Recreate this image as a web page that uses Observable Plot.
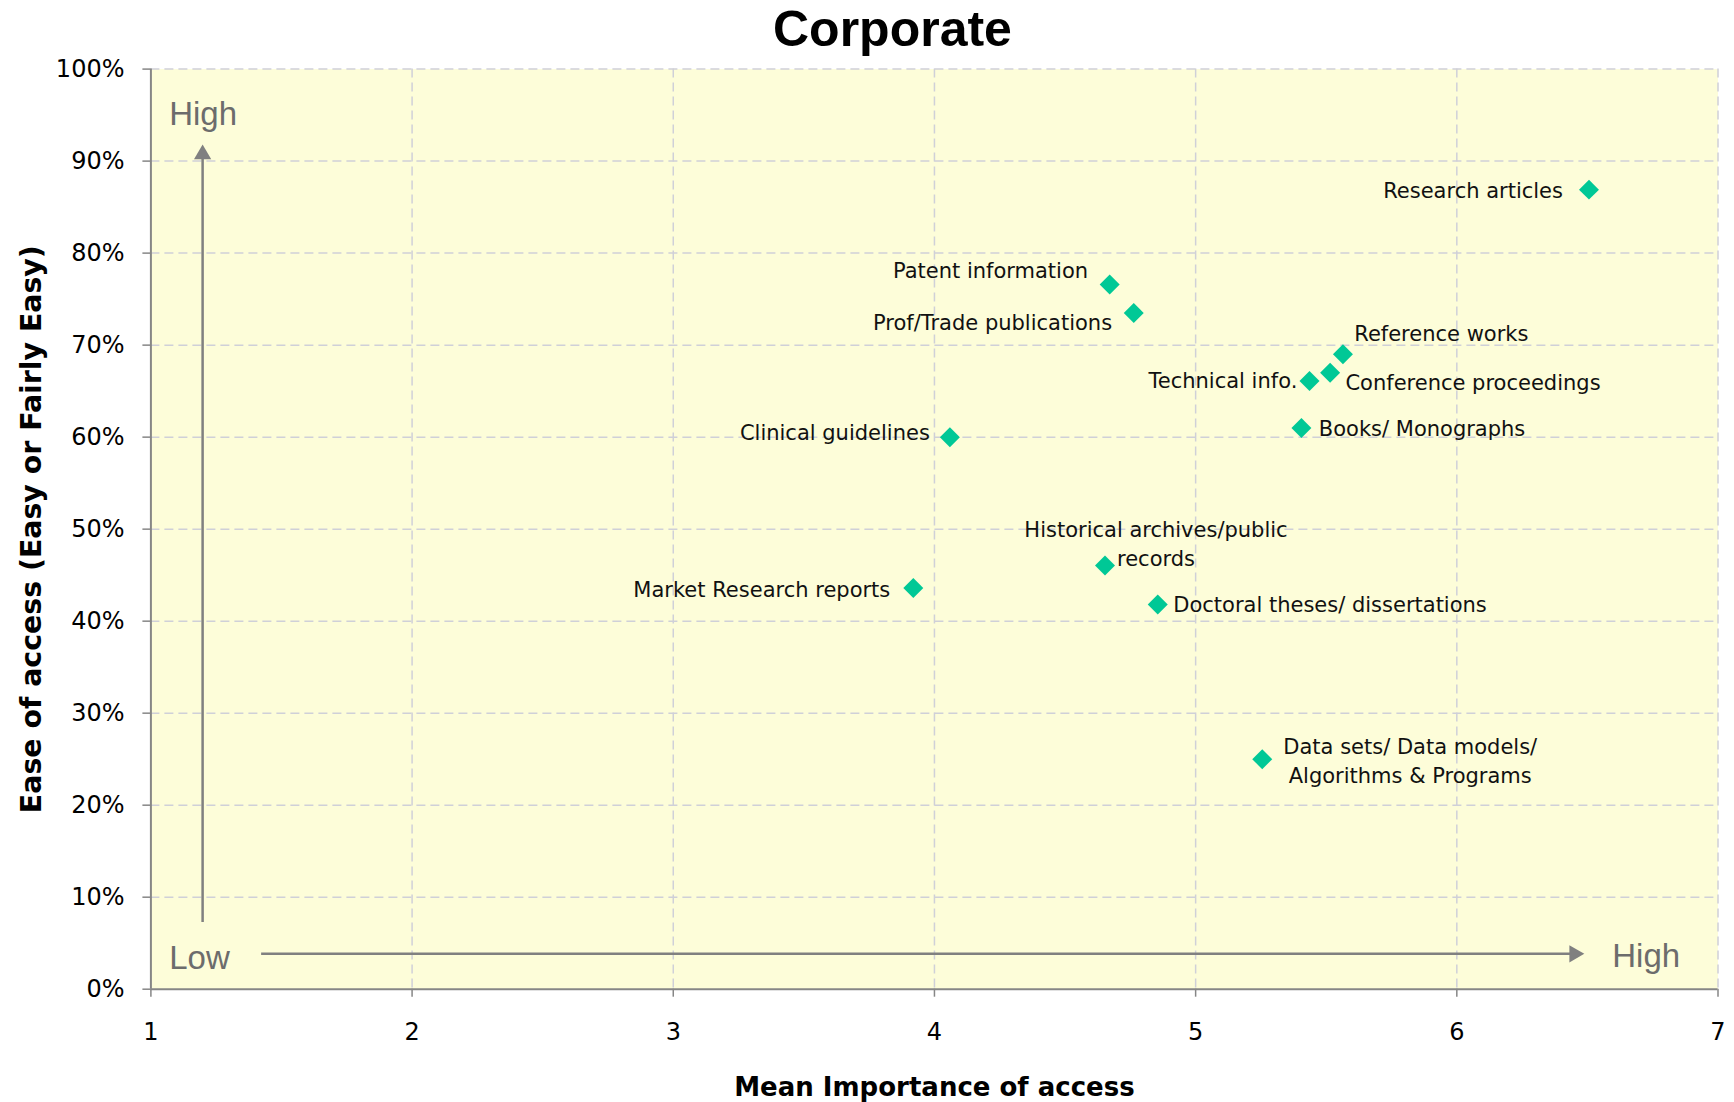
<!DOCTYPE html>
<html>
<head>
<meta charset="utf-8">
<script src="https://cdn.jsdelivr.net/npm/d3@7"></script>
<script src="https://cdn.jsdelivr.net/npm/@observablehq/plot@0.6"></script>
<style>
  html, body { margin: 0; padding: 0; background: #ffffff; overflow: hidden; }
</style>
</head>
<body>
<div id="chart"></div>
<script>
// ---------------- Data ----------------
const chartTitle = "Corporate";
const xTitle = "Mean Importance of access";
const yTitle = "Ease of access (Easy or Fairly Easy)";

const sources = [
  "Research articles",
  "Patent information",
  "Prof/Trade publications",
  "Reference works",
  "Conference proceedings",
  "Technical info.",
  "Books/ Monographs",
  "Clinical guidelines",
  "Historical archives/public\nrecords",
  "Market Research reports",
  "Doctoral theses/ dissertations",
  "Data sets/ Data models/\nAlgorithms & Programs"
];
const importance = [6.506, 4.671, 4.763, 5.564, 5.515, 5.436, 5.405, 4.059, 4.653, 3.919, 4.855, 5.255];
const ease       = [0.869, 0.766, 0.735, 0.690, 0.670, 0.661, 0.610, 0.600, 0.4605, 0.436, 0.418, 0.250];

const xTicks = [1, 2, 3, 4, 5, 6, 7];
const yTicks = [0, 0.1, 0.2, 0.3, 0.4, 0.5, 0.6, 0.7, 0.8, 0.9, 1.0];

// direction guides (in data units)
const guideText = ["High", "Low", "High"];
const guideX    = [1.07, 1.07, 6.595];
const guideY    = [0.9388, 0.0222, 0.0239];
const arrowX1 = [1.198, 1.422];
const arrowY1 = [0.073, 0.0385];
const arrowX2 = [1.198, 6.450];
const arrowY2 = [0.9073, 0.0385];
const arrowDir = [0, 90];

// ---------------- Layout (styles, not data) ----------------
const labelLayout = {
  "Research articles":               {anchor: "end",    dx: -26,  dy: -0.5},
  "Patent information":              {anchor: "end",    dx: -21.6, dy: -16},
  "Prof/Trade publications":         {anchor: "end",    dx: -21.6, dy: 7.4},
  "Reference works":                 {anchor: "start",  dx: 11.3, dy: -22.8},
  "Conference proceedings":          {anchor: "start",  dx: 15.3, dy: 7.7},
  "Technical info.":                 {anchor: "end",    dx: -12.2, dy: -2},
  "Books/ Monographs":               {anchor: "start",  dx: 17.4, dy: -1},
  "Clinical guidelines":             {anchor: "end",    dx: -20,  dy: -6},
  "Historical archives/public\nrecords": {anchor: "middle", dx: 51, dy: -23.7},
  "Market Research reports":         {anchor: "end",    dx: -23,  dy: 0},
  "Doctoral theses/ dissertations":  {anchor: "start",  dx: 15.5, dy: -2},
  "Data sets/ Data models/\nAlgorithms & Programs": {anchor: "middle", dx: 148, dy: 0}
};

const rows = sources.map((s, i) => ({name: s, x: importance[i], y: ease[i]}));
const arrows = arrowX1.map((d, i) => ({x1: arrowX1[i], y1: arrowY1[i], x2: arrowX2[i], y2: arrowY2[i], rot: arrowDir[i]}));
const guides = guideText.map((t, i) => ({t, x: guideX[i], y: guideY[i]}));

const gridStyle = {stroke: "#cfd0d8", strokeOpacity: 1, strokeWidth: 1.5, strokeDasharray: "9,5"};
const axisColor = "#868686";
const guideColor = "#6c6c6c";

const labelMarks = rows.map(r => {
  const L = labelLayout[r.name];
  return Plot.text([r], {
    x: "x", y: "y", text: "name",
    textAnchor: L.anchor, dx: L.dx, dy: L.dy,
    lineAnchor: "middle", lineHeight: 1.38,
    fontFamily: "DejaVu Sans", fontSize: 21, fill: "#111111"
  });
});

const plot = Plot.plot({
  width: 1734,
  height: 1102,
  marginLeft: 150.4,
  marginRight: 16.5,
  marginTop: 68.6,
  marginBottom: 113.3,
  x: {domain: [1, 7]},
  y: {domain: [0, 1]},
  style: {fontFamily: "DejaVu Sans", fontSize: "24px", background: "#ffffff", color: "#000000"},
  marks: [
    Plot.frame({fill: "#fdfdd9", stroke: "none"}),
    Plot.gridX({ticks: xTicks.slice(1), ...gridStyle}),
    Plot.gridY({ticks: yTicks.slice(1), ...gridStyle}),
    Plot.axisX({ticks: xTicks, tickSize: 8, tickPadding: 26, stroke: axisColor, strokeWidth: 1.5,
                fill: "#000", fontSize: 24, fontFamily: "DejaVu Sans", tickFormat: d => String(d), label: null}),
    Plot.axisY({ticks: yTicks, tickSize: 8, tickPadding: 18.4, stroke: axisColor, strokeWidth: 1.5,
                fill: "#000", fontSize: 24, fontFamily: "DejaVu Sans", tickFormat: d3.format(".0%"), label: null}),
    Plot.ruleX([1], {stroke: axisColor, strokeWidth: 2}),
    Plot.ruleY([0], {stroke: axisColor, strokeWidth: 2}),
    // direction arrows
    Plot.link(arrows, {x1: "x1", y1: "y1", x2: "x2", y2: "y2", stroke: "#808080", strokeWidth: 2.5}),
    Plot.dot(arrows, {x: "x2", y: "y2", symbol: "triangle", r: 6.4, rotate: "rot", fill: "#808080", stroke: "none"}),
    Plot.text(guides, {x: "x", y: "y", text: "t", textAnchor: "start", lineAnchor: "bottom",
                       fontFamily: "Liberation Sans", fontSize: 33, fill: guideColor}),
    // data points
    Plot.dot(rows, {x: "x", y: "y", symbol: "diamond2", r: 9, fill: "#00c896", stroke: "none"}),
    ...labelMarks,
    // titles
    Plot.text([chartTitle], {frameAnchor: "top", text: d => d, dx: -42, dy: -23, lineAnchor: "bottom",
                             fontFamily: "Liberation Sans", fontWeight: "bold", fontSize: 50, fill: "#000"}),
    Plot.text([xTitle], {frameAnchor: "bottom", text: d => d, dy: 106.6, lineAnchor: "bottom",
                         fontFamily: "DejaVu Sans", fontWeight: "bold", fontSize: 26, fill: "#000"}),
    Plot.text([yTitle], {frameAnchor: "left", text: d => d, dx: -119.4, rotate: -90,
                         textAnchor: "middle", lineAnchor: "middle",
                         fontFamily: "DejaVu Sans", fontWeight: "bold", fontSize: 28.4, fill: "#000"})
  ]
});

document.getElementById("chart").appendChild(plot);
</script>
</body>
</html>
